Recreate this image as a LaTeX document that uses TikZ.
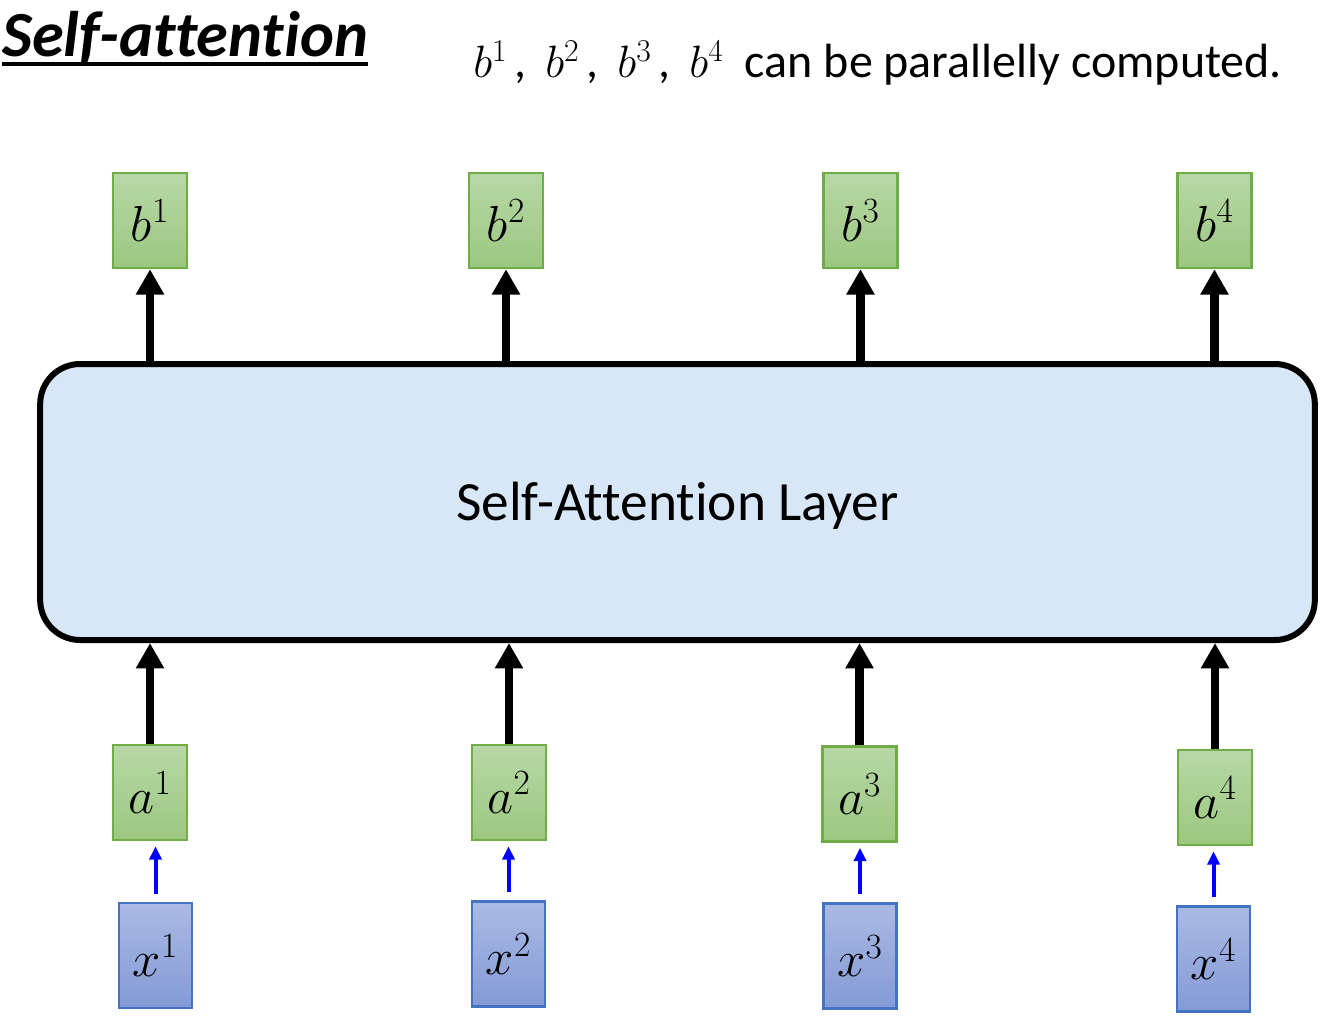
\RequirePackage{fix-cm}
\documentclass[tikz,border=0pt]{standalone}
\usepackage{fontspec}
\setmainfont{Carlito}[Ligatures=NoCommon]
\usetikzlibrary{arrows.meta}
\definecolor{gtop}{RGB}{183,216,166}
\definecolor{gbot}{RGB}{156,199,128}
\definecolor{gedge}{RGB}{112,173,71}
\definecolor{btop}{RGB}{170,186,228}
\definecolor{bbot}{RGB}{132,154,214}
\definecolor{bedge}{RGB}{68,114,196}
\definecolor{layerfill}{RGB}{216,231,247}
\newcommand{\mybsym}[1]{{\fontsize{34}{38}\selectfont$b^{#1}$}}
\tikzset{
  gbox/.style={draw=gedge, line width=1.8pt, top color=gtop, bottom color=gbot,
    minimum width=55.5pt, minimum height=71.25pt, inner sep=0pt,
    font=\fontsize{38}{42}\selectfont},
  bbox/.style={draw=bedge, line width=1.8pt, top color=btop, bottom color=bbot,
    minimum width=55pt, minimum height=78.75pt, inner sep=0pt,
    font=\fontsize{38}{42}\selectfont},
  layerbox/.style={draw=black, line width=4.5pt, fill=layerfill, rounded corners=30pt,
    minimum width=956pt, minimum height=207pt, inner sep=0pt},
  bigarrow/.style={draw=black, line width=6.5pt, -{Triangle[length=19pt,width=20pt]}},
  bluearrow/.style={draw=blue, line width=3pt, -{Triangle[length=10pt,width=9pt]},
    shorten <=6pt, shorten >=3.75pt},
}
\begin{document}
\begin{tikzpicture}[x=0.75pt,y=-0.75pt]
\useasboundingbox (0,0) rectangle (1323,1024);
% title
\node[anchor=base west, inner sep=0pt, font=\fontsize{48.3}{54}\selectfont\bfseries\itshape] (title) at (2,56) {Self-attention};
\draw[line width=2.4pt] ([yshift=-6pt]title.base west) -- ([yshift=-6pt]title.base east);
\node[anchor=base west, inner sep=0pt, font=\fontsize{36}{40}\selectfont] (note) at (473,78)
  {\mybsym1\hspace{5pt},\hspace{14.5pt}\mybsym2\hspace{5pt},\hspace{14.5pt}\mybsym3\hspace{5pt},\hspace{14.5pt}\mybsym4\hspace{16pt}can be parallelly computed.};
% layer
\node[layerbox] (layer) at (677.5,502) {};
\node[font=\fontsize{41.5}{48}\selectfont, inner sep=0pt] (layerlabel) at ([yshift=-3pt]layer.center) {Self-Attention Layer};
% outputs
\node[gbox] (b1) at (150,220.5) {$b^1$};
\node[gbox] (b2) at (506,220.5) {$b^2$};
\node[gbox] (b3) at (860.5,220.5) {$b^3$};
\node[gbox] (b4) at (1214.5,220.5) {$b^4$};
% a
\node[gbox] (a1) at (150,792.5) {$a^1$};
\node[gbox] (a2) at (509,792.5) {$a^2$};
\node[gbox] (a3) at (859.5,794) {$a^3$};
\node[gbox] (a4) at (1215,797.5) {$a^4$};
% x
\node[bbox] (x1) at (155.5,955.5) {$x^1$};
\node[bbox] (x2) at (508.5,954) {$x^2$};
\node[bbox] (x3) at (860,956) {$x^3$};
\node[bbox] (x4) at (1213.5,959) {$x^4$};
% arrows
\foreach \i in {1,2,3,4}{
  \draw[bigarrow] (layer.north -| b\i.south) -- (b\i.south);
  \draw[bigarrow] (a\i.north) -- (a\i.north |- layer.south);
  \draw[bluearrow] (x\i.north) -- (x\i.north |- a\i.south);
}
\end{tikzpicture}
\end{document}
